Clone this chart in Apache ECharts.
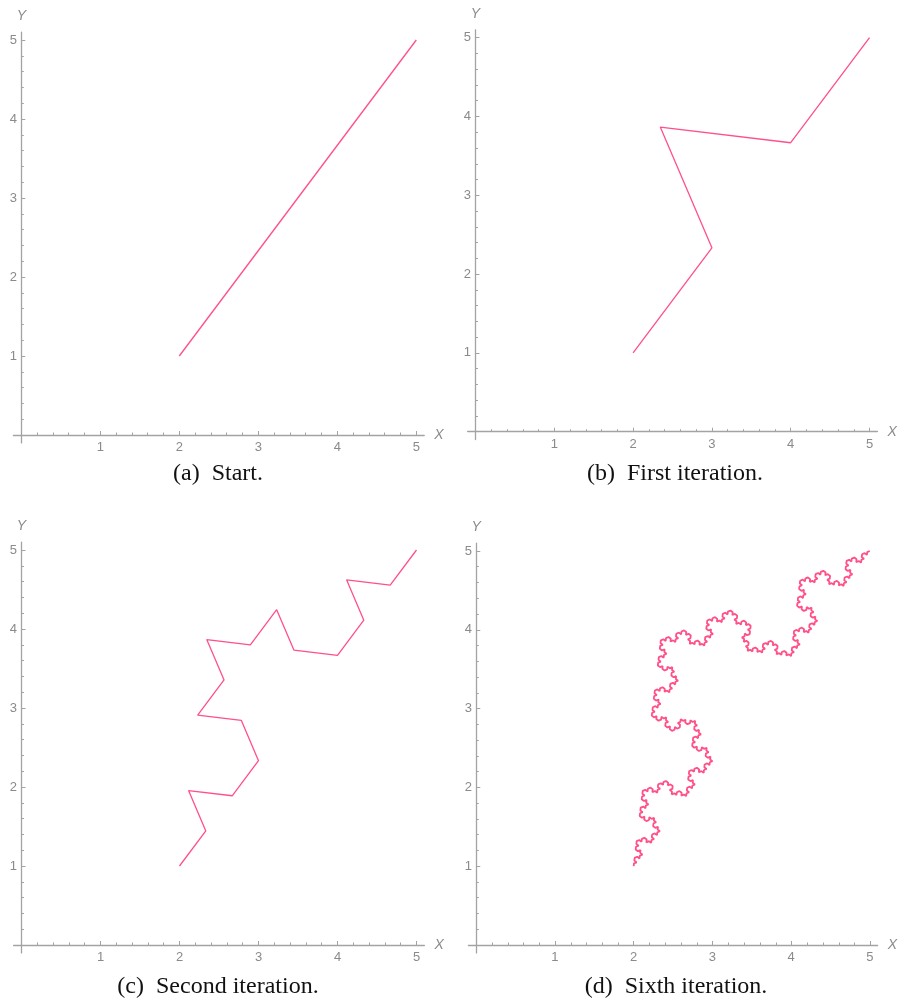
<!DOCTYPE html>
<html>
<head>
<meta charset="utf-8">
<script src="https://cdn.jsdelivr.net/npm/echarts@6/dist/echarts.min.js"></script>
<style>
html, body { margin: 0; background: #fff; }
#main { width: 898px; height: 1003px; }
</style>
</head>
<body>
<div id="main"></div>
<script>
// points
var startX = [2, 5];
var startY = [1, 5];
var firstX = [2, 3, 2.345, 4, 5];
var firstY = [1, 2.333, 3.866, 3.667, 5];
var secondX = [2, 2.333, 2.115, 2.667, 3, 2.782, 2.230, 2.564, 2.345, 2.897, 3.230, 3.448, 4, 4.333, 4.115, 4.667, 5];
var secondY = [1, 1.444, 1.955, 1.889, 2.333, 2.844, 2.911, 3.355, 3.866, 3.800, 4.244, 3.733, 3.667, 4.111, 4.622, 4.556, 5];
var majorTicks = [1, 2, 3, 4, 5];
var minorTicks = [0.2, 0.4, 0.6, 0.8, 1.2, 1.4, 1.6, 1.8, 2.2, 2.4, 2.6, 2.8,
                  3.2, 3.4, 3.6, 3.8, 4.2, 4.4, 4.6, 4.8];
var captions = ['(a)\u2002Start.', '(b)\u2002First iteration.', '(c)\u2002Second iteration.', '(d)\u2002Sixth iteration.'];

// the sixth iteration: the same Koch step applied four more times to the second one
function kochStep(xs, ys) {
    var nx = [xs[0]], ny = [ys[0]];
    var c = 0.5, s = Math.sqrt(3) / 2;
    for (var i = 1; i < xs.length; i++) {
        var x0 = xs[i - 1], y0 = ys[i - 1];
        var dx = (xs[i] - x0) / 3, dy = (ys[i] - y0) / 3;
        nx.push(x0 + dx, x0 + dx + dx * c - dy * s, x0 + 2 * dx, xs[i]);
        ny.push(y0 + dy, y0 + dy + dx * s + dy * c, y0 + 2 * dy, ys[i]);
    }
    return [nx, ny];
}
var sixth = [secondX, secondY];
for (var k = 0; k < 4; k++) sixth = kochStep(sixth[0], sixth[1]);

function pairs(xs, ys) {
    return xs.map(function (x, i) { return [x, ys[i]]; });
}
var curves = [
    pairs(startX, startY),
    pairs(firstX, firstY),
    pairs(secondX, secondY),
    pairs(sixth[0], sixth[1])
];

var panels = [
    { left: 13.4, top: 32.1, size: 410.8, capX: 218, capY: 474 },
    { left: 467.6, top: 29.8, size: 409.8, capX: 675, capY: 474 },
    { left: 13.6, top: 542.1, size: 410.8, capX: 218, capY: 987 },
    { left: 468.4, top: 543.1, size: 409.8, capX: 676, capY: 987 }
];

var axisGrey = '#a3a3a3';
var labelGrey = '#8a8a8a';
var pink = '#ff5088';

var grid = [], xAxis = [], yAxis = [], series = [], graphic = [];

panels.forEach(function (p, i) {
    // two grids on the same spot: one for the major ticks and labels, one for the minor ticks
    [0, 1].forEach(function (minor) {
        var g = grid.length;
        grid.push({ left: p.left, top: p.top, width: p.size, height: p.size });
        var common = {
            type: 'value', gridIndex: g, min: -0.1, max: 5.1,
            splitLine: { show: false },
            axisLine: { show: !minor, onZero: true, lineStyle: { color: axisGrey, width: 1.3 } },
            axisTick: {
                show: true, inside: true, length: minor ? 2.5 : 4,
                customValues: minor ? minorTicks : majorTicks,
                lineStyle: { color: axisGrey, width: 1 }
            },
            axisLabel: {
                show: !minor, customValues: majorTicks,
                color: labelGrey, fontSize: 13, fontFamily: 'Liberation Sans'
            }
        };
        xAxis.push(Object.assign({}, common, {
            name: minor ? '' : 'X', nameLocation: 'end', nameGap: 10,
            nameTextStyle: { color: '#8a8a8a', fontSize: 14, fontStyle: 'italic', fontFamily: 'Liberation Sans' },
            axisLabel: Object.assign({}, common.axisLabel, { margin: -2 })
        }));
        yAxis.push(Object.assign({}, common, {
            name: minor ? '' : 'Y', nameLocation: 'end', nameGap: 9,
            nameTextStyle: { color: '#8a8a8a', fontSize: 14, fontStyle: 'italic', fontFamily: 'Liberation Sans' },
            axisLabel: Object.assign({}, common.axisLabel, { margin: -3.5 })
        }));
        if (!minor) {
            series.push({
                type: 'line', xAxisIndex: g, yAxisIndex: g,
                data: curves[i], showSymbol: false, symbol: 'none',
                lineStyle: { color: pink, width: i === 3 ? 1.8 : 1.3 },
                animation: false
            });
        }
    });
    graphic.push({
        type: 'text', x: p.capX, y: p.capY,
        style: {
            text: captions[i], align: 'center', verticalAlign: 'middle',
            font: '24px "Liberation Serif"', fill: '#111'
        }
    });
});

var myChart = echarts.init(document.getElementById('main'));
myChart.setOption({
    animation: false,
    grid: grid,
    xAxis: xAxis,
    yAxis: yAxis,
    series: series,
    graphic: graphic
});
</script>
</body>
</html>
